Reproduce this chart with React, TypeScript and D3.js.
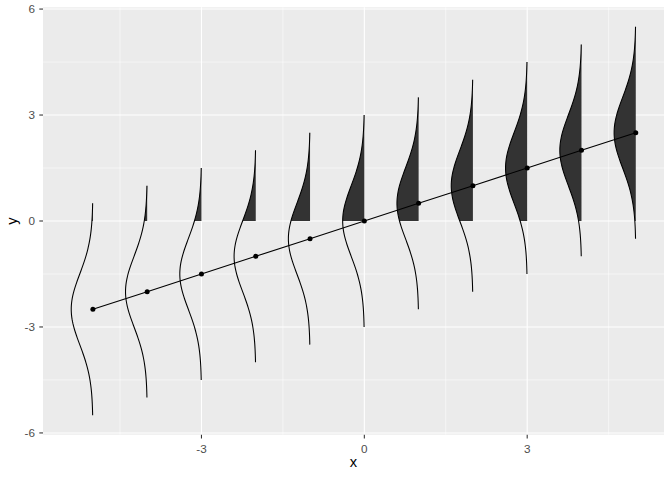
import React from "react";
import * as d3 from "d3";

// Data
const xValues = [-5, -4, -3, -2, -1, 0, 1, 2, 3, 4, 5];
const yValues = [-2.5, -2, -1.5, -1, -0.5, 0, 0.5, 1, 1.5, 2, 2.5];
const sdValues = [1, 1, 1, 1, 1, 1, 1, 1, 1, 1, 1];
const xTicks = [-3, 0, 3];
const xMinor = [-4.5, -1.5, 1.5, 4.5];
const yTicks = [-6, -3, 0, 3, 6];
const yMinor = [-4.5, -1.5, 1.5, 4.5];

const W = 672;
const H = 480;
const panel = { left: 43, right: 664, top: 7.3, bottom: 434.7 };

const dnorm = (z: number, sd: number) =>
  Math.exp(-0.5 * (z / sd) * (z / sd)) / (sd * Math.sqrt(2 * Math.PI));

export default function App() {
  const xMinData = d3.min(xValues.map((x, i) => x - dnorm(0, sdValues[i]))) as number;
  const xMaxData = d3.max(xValues) as number;
  const yMinData = d3.min(yValues.map((y, i) => y - 3 * sdValues[i])) as number;
  const yMaxData = d3.max(yValues.map((y, i) => y + 3 * sdValues[i])) as number;
  const xr = xMaxData - xMinData;
  const yr = yMaxData - yMinData;
  const x = d3
    .scaleLinear()
    .domain([xMinData - 0.05 * xr, xMaxData + 0.05 * xr])
    .range([panel.left, panel.right]);
  const y = d3
    .scaleLinear()
    .domain([yMinData - 0.05 * yr, yMaxData + 0.05 * yr])
    .range([panel.bottom, panel.top]);

  const N = 121;
  const curves = xValues.map((xi, i) => {
    const mu = yValues[i];
    const sd = sdValues[i];
    const pts: [number, number][] = d3.range(N).map((k) => {
      const yy = mu - 3 * sd + (6 * sd * k) / (N - 1);
      return [xi - dnorm(yy - mu, sd), yy];
    });
    const lo = Math.max(0, mu - 3 * sd);
    const hi = mu + 3 * sd;
    let fill: [number, number][] = [];
    if (hi > 0) {
      const fpts: [number, number][] = d3.range(N).map((k) => {
        const yy = lo + ((hi - lo) * k) / (N - 1);
        return [xi - dnorm(yy - mu, sd), yy];
      });
      fill = [...fpts, [xi, hi], [xi, lo]];
    }
    return { pts, fill };
  });

  const line = d3
    .line<[number, number]>()
    .x((d) => x(d[0]))
    .y((d) => y(d[1]));

  const font = "'Liberation Sans', Arial, sans-serif";

  return (
    <div style={{ position: "absolute", left: 0, top: 0 }}>
      <svg width={W} height={H} style={{ display: "block" }}>
        <rect x={0} y={0} width={W} height={H} fill="#ffffff" />
        <rect
          x={panel.left}
          y={panel.top}
          width={panel.right - panel.left}
          height={panel.bottom - panel.top}
          fill="#EBEBEB"
        />
        {yMinor.map((v) => (
          <line key={"ym" + v} x1={panel.left} x2={panel.right} y1={y(v)} y2={y(v)} stroke="#fff" strokeWidth={0.53} />
        ))}
        {xMinor.map((v) => (
          <line key={"xm" + v} y1={panel.top} y2={panel.bottom} x1={x(v)} x2={x(v)} stroke="#fff" strokeWidth={0.53} />
        ))}
        {yTicks.map((v) => (
          <line key={"yM" + v} x1={panel.left} x2={panel.right} y1={y(v)} y2={y(v)} stroke="#fff" strokeWidth={1.07} />
        ))}
        {xTicks.map((v) => (
          <line key={"xM" + v} y1={panel.top} y2={panel.bottom} x1={x(v)} x2={x(v)} stroke="#fff" strokeWidth={1.07} />
        ))}
        {curves.map((c, i) =>
          c.fill.length ? (
            <path key={"f" + i} d={line(c.fill) + "Z"} fill="#333333" stroke="none" />
          ) : null
        )}
        {curves.map((c, i) => (
          <path key={"c" + i} d={line(c.pts) as string} fill="none" stroke="#000" strokeWidth={1.07} />
        ))}
        <path
          d={line(xValues.map((xv, i) => [xv, yValues[i]] as [number, number])) as string}
          fill="none"
          stroke="#000"
          strokeWidth={1.07}
        />
        {xValues.map((xv, i) => (
          <circle key={"p" + i} cx={x(xv)} cy={y(yValues[i])} r={2.5} fill="#000" />
        ))}
        {yTicks.map((v) => (
          <g key={"yt" + v}>
            <line x1={panel.left - 3.7} x2={panel.left} y1={y(v)} y2={y(v)} stroke="#333333" strokeWidth={1.07} />
            <text x={35} y={y(v) + 4.2} textAnchor="end" fontFamily={font} fontSize={11.7} fill="#4D4D4D">
              {v}
            </text>
          </g>
        ))}
        {xTicks.map((v) => (
          <g key={"xt" + v}>
            <line y1={panel.bottom} y2={panel.bottom + 3.7} x1={x(v)} x2={x(v)} stroke="#333333" strokeWidth={1.07} />
            <text x={x(v)} y={453} textAnchor="middle" fontFamily={font} fontSize={11.7} fill="#4D4D4D">
              {v}
            </text>
          </g>
        ))}
        <text
          x={(panel.left + panel.right) / 2}
          y={467}
          textAnchor="middle"
          fontFamily={font}
          fontSize={14.7}
          fill="#000"
        >
          x
        </text>
        <text
          transform={`translate(17,${(panel.top + panel.bottom) / 2}) rotate(-90)`}
          textAnchor="middle"
          fontFamily={font}
          fontSize={14.7}
          fill="#000"
        >
          y
        </text>
      </svg>
    </div>
  );
}
